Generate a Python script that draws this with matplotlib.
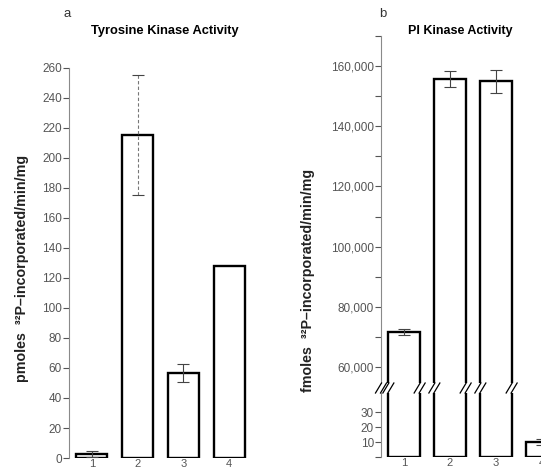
import numpy as np
import matplotlib
matplotlib.use('Agg')
import matplotlib.pyplot as plt
from matplotlib.lines import Line2D

plt.rcParams['font.family'] = ['Liberation Sans', 'DejaVu Sans']

# Data
lanes = [1, 2, 3, 4]
tyr_values = [3, 215, 57, 128]
tyr_errors = [2, 40, 6, 0]
pi_values = [71500, 155700, 155000, 10]
pi_errors = [1000, 2800, 3800, 2]

a_ticks = list(range(0, 261, 20))
b_upper_major = [60000, 80000, 100000, 120000, 140000, 160000]
b_upper_minor = [70000, 90000, 110000, 130000, 150000, 170000]
b_upper_labels = ['60,000', '80,000', '100,000', '120,000', '140,000', '160,000']
b_lower_ticks = [0, 10, 20, 30]
b_lower_labels = ['', '10', '20', '30']

W, H = 541, 469
fig = plt.figure(figsize=(W / 100, H / 100), dpi=100)


def box(x0, y_top, x1, y_bot):
    return [x0 / W, 1 - y_bot / H, (x1 - x0) / W, (y_bot - y_top) / H]


tick_col = '#555555'
spine_col = '#8a8a8a'
bar_w = 0.68


def style(ax):
    for s in ['top', 'right', 'bottom']:
        ax.spines[s].set_visible(False)
    ax.spines['left'].set_color(spine_col)
    ax.spines['left'].set_linewidth(0.8)
    ax.tick_params(axis='y', direction='out', length=4, width=0.8, color=tick_col,
                   labelcolor=tick_col, labelsize=8.5, pad=1)
    ax.tick_params(axis='y', which='minor', direction='out', length=4, width=0.8, color=tick_col)
    ax.set_xlim(0.5, 4.5)
    ax.set_xticks([])


def draw_bars(ax, vals, errs, dashed=None):
    ax.bar(lanes, vals, width=bar_w, facecolor='white', edgecolor='black', linewidth=1.7, zorder=2)
    for i, (x, v, e) in enumerate(zip(lanes, vals, errs)):
        if e == 0:
            continue
        cont = ax.errorbar(x, v, yerr=e, fmt='none', ecolor='#444444', elinewidth=0.8,
                           capsize=4, capthick=0.8, zorder=3)
        if dashed is not None and i == dashed:
            cont.lines[2][0].set_linestyle((0, (3, 2)))
            cont.lines[2][0].set_color('#777777')


# ---- panel a ----
ax_a = fig.add_axes(box(69, 68, 252, 458))
style(ax_a)
ax_a.set_ylim(0, 260)
ax_a.set_yticks(a_ticks)
draw_bars(ax_a, tyr_values, tyr_errors, dashed=1)
ax_a.set_xticks(lanes)
ax_a.set_xticklabels([str(l) for l in lanes])
ax_a.tick_params(axis='x', length=0, labelsize=8, labelcolor=tick_col, pad=1)

fig.text(67 / W, 1 - 14 / H, 'a', fontsize=9.5, color='#333333', ha='center', va='center')
fig.text(165 / W, 1 - 31 / H, 'Tyrosine Kinase Activity', fontsize=9.3, fontweight='bold',
         ha='center', va='center')
fig.text(22 / W, 1 - 268 / H, 'pmoles  \u00b3\u00b2P\u2013incorporated/min/mg', fontsize=10.3,
         fontweight='bold', color='#222222', rotation=90, ha='center', va='center')

# ---- panel b (broken axis) ----
ax_bu = fig.add_axes(box(381, 36, 565, 383))
style(ax_bu)
ax_bu.set_ylim(54700, 170000)
ax_bu.set_yticks(b_upper_major)
ax_bu.set_yticklabels(b_upper_labels)
ax_bu.set_yticks(b_upper_minor, minor=True)
draw_bars(ax_bu, pi_values, pi_errors)

ax_bl = fig.add_axes(box(381, 393, 565, 457))
style(ax_bl)
ax_bl.set_ylim(0, 42.7)
ax_bl.set_yticks(b_lower_ticks)
ax_bl.set_yticklabels(b_lower_labels)
draw_bars(ax_bl, pi_values, pi_errors)
ax_bl.set_xticks(lanes)
ax_bl.set_xticklabels([str(l) for l in lanes])
ax_bl.tick_params(axis='x', length=0, labelsize=8, labelcolor=tick_col, pad=1)

# break marks on the axis and on bar edges
fig.canvas.draw()
inv = fig.transFigure.inverted()
edges = [0.5]
for l, v in zip(lanes, pi_values):
    if v > 54700:
        edges += [l - bar_w / 2, l + bar_w / 2]
y_mid = 388
for xe in edges:
    px = ax_bu.transData.transform((xe, 60000))[0]
    for off in (-2.5, 2.5):
        p0 = inv.transform((px + off - 3, H - (y_mid + 5)))
        p1 = inv.transform((px + off + 3, H - (y_mid - 5)))
        fig.add_artist(Line2D([p0[0], p1[0]], [p0[1], p1[1]], color='black', lw=0.9))

fig.text(383 / W, 1 - 14 / H, 'b', fontsize=9.5, color='#333333', ha='center', va='center')
fig.text(460 / W, 1 - 31 / H, 'PI Kinase Activity', fontsize=9, fontweight='bold',
         ha='center', va='center')
fig.text(308 / W, 1 - 280 / H, 'fmoles  \u00b3\u00b2P\u2013incorporated/min/mg', fontsize=10.3,
         fontweight='bold', color='#222222', rotation=90, ha='center', va='center')

fig.savefig('out.png', dpi=100, facecolor='white')
